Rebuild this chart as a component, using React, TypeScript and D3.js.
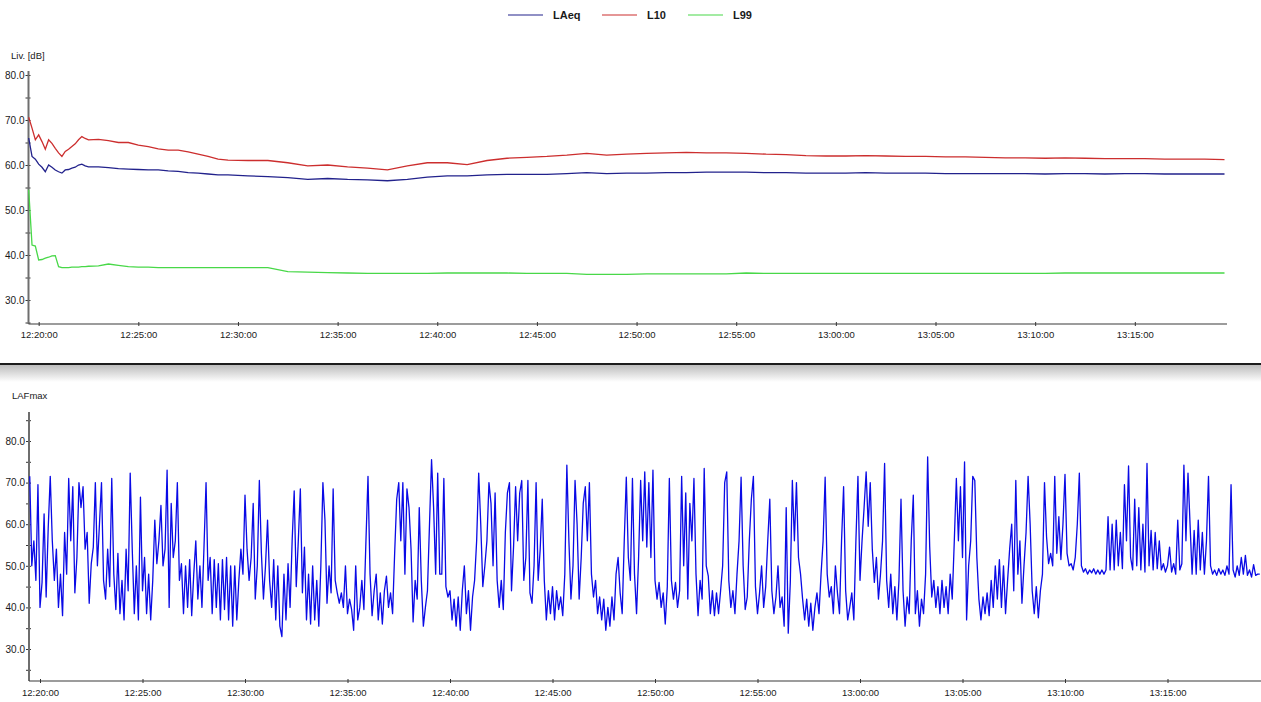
import React, { useEffect, useRef } from 'react'
import * as d3 from 'd3'

// Summary levels: sample times in seconds after 12:19:30
const levelSeconds = [
  0, 10, 20, 30, 40, 50, 60, 70, 80, 90, 100, 110, 120, 130, 140, 150, 160, 170, 180,
  210, 240, 270, 300, 330, 360, 390, 420, 450, 480, 510, 540, 570, 600,
  660, 720, 780, 840, 900, 960, 1020, 1080, 1140, 1200, 1260, 1320, 1380, 1440, 1500, 1560, 1620, 1680, 1740,
  1800, 1860, 1920, 1980, 2040, 2100, 2160, 2220, 2280, 2340, 2400, 2460, 2520, 2580, 2640, 2700, 2760, 2820,
  2880, 2940, 3000, 3060, 3120, 3180, 3240, 3300, 3360, 3420, 3480, 3540, 3600
]

const laeq = [
  66.0, 61.9, 61.3, 60.2, 59.5, 58.5, 60.0, 59.5, 58.9, 58.5, 58.2, 58.9, 59.0, 59.3, 59.5, 60.0, 60.2, 59.8, 59.6,
  59.6, 59.4, 59.2, 59.1, 59.0, 58.9, 58.9, 58.7, 58.6, 58.3, 58.2, 58.0, 57.8, 57.8,
  57.6, 57.4, 57.2, 56.8, 57.0, 56.8, 56.7, 56.5, 56.8, 57.3, 57.6, 57.6, 57.8, 57.9, 57.9, 57.9, 58.1, 58.3, 58.1,
  58.2, 58.2, 58.3, 58.3, 58.4, 58.4, 58.4, 58.3, 58.3, 58.2, 58.2, 58.2, 58.3, 58.2, 58.2, 58.2, 58.1, 58.1,
  58.1, 58.1, 58.1, 58.0, 58.1, 58.1, 58.0, 58.1, 58.1, 58.0, 58.0, 58.0, 58.0
]

const l10 = [
  70.6, 68.2, 65.6, 66.7, 65.2, 63.5, 65.6, 64.8, 63.7, 62.7, 61.9, 63.0, 63.5, 64.1, 64.7, 65.6, 66.3, 65.9, 65.6,
  65.7, 65.4, 65.0, 65.0, 64.4, 64.1, 63.6, 63.3, 63.3, 62.9, 62.4, 61.9, 61.3, 61.1,
  61.0, 61.0, 60.5, 59.8, 60.0, 59.6, 59.3, 58.9, 59.8, 60.5, 60.5, 60.1, 61.0, 61.5, 61.7, 61.9, 62.2, 62.6, 62.2,
  62.4, 62.6, 62.7, 62.8, 62.7, 62.7, 62.6, 62.4, 62.3, 62.1, 62.0, 62.0, 62.1, 62.0, 61.9, 61.9, 61.8, 61.8,
  61.7, 61.6, 61.6, 61.5, 61.6, 61.5, 61.4, 61.4, 61.4, 61.3, 61.3, 61.3, 61.2
]

const l99 = [
  54.5, 42.2, 42.0, 38.9, 39.0, 39.3, 39.5, 39.8, 39.85, 37.4, 37.2, 37.2, 37.2, 37.3, 37.3, 37.3, 37.4, 37.4, 37.5,
  37.6, 38.0, 37.7, 37.4, 37.3, 37.3, 37.2, 37.2, 37.2, 37.2, 37.2, 37.2, 37.2, 37.2,
  37.2, 37.2, 36.3, 36.2, 36.1, 36.0, 35.9, 35.9, 35.9, 35.9, 36.0, 36.0, 36.0, 36.0, 35.9, 35.9, 35.9, 35.7, 35.7,
  35.7, 35.8, 35.8, 35.8, 35.8, 35.8, 36.0, 35.9, 35.9, 35.9, 35.9, 35.9, 35.9, 35.9, 35.9, 35.9, 35.9, 35.9,
  35.9, 35.9, 35.9, 35.9, 36.0, 36.0, 36.0, 36.0, 36.0, 36.0, 36.0, 36.0, 36.0
]

// LAFmax, one value every 6 s from 12:19:30, in 5-minute blocks
const lafmaxA = [
  71.5, 50, 56, 46.5, 69.5, 40, 46, 62.5, 42.5, 59, 71.5, 56, 46.5, 54, 40, 48, 38, 58, 48, 71,
  56, 69, 43.5, 52, 70, 64, 69, 54, 58, 41, 50.5, 54.5, 70, 50, 60, 70, 46.5, 42, 54, 45,
  71, 48, 39.5, 53, 38.5, 46.5, 37, 54, 44, 72.3
]
const lafmaxB = [
  54, 38.5, 50, 37, 66.5, 44, 52, 38.5, 48, 37, 46.5, 61, 50.5, 56, 64.5, 50, 54, 73, 40, 65,
  52, 56, 70, 46.5, 50.5, 38.5, 50, 40, 51.5, 38, 48, 56, 42, 50, 40, 54.5, 70, 46.5, 52, 38.5,
  51.5, 40, 50.5, 37, 51.5, 39.5, 52, 37, 50, 35.5
]
const lafmaxC = [
  50, 37, 46.5, 54, 48, 67, 54, 46.5, 52, 65, 42, 50, 70.5, 53, 42, 50, 61, 46.5, 40, 51.5,
  37, 50, 35.5, 33, 48, 37, 50.5, 40, 56, 68, 45, 56, 68.5, 43.5, 54.5, 37, 48, 36, 50, 37,
  46.5, 35.5, 50, 70, 61, 41, 50, 43.5, 68.5, 46.5
]
const lafmaxD = [
  43.5, 41, 43.5, 40, 50, 38.5, 42, 39.5, 34.5, 50, 37, 40, 46.5, 39.5, 56, 71.5, 48, 38, 44, 48,
  37, 43.5, 36, 44, 47.5, 40, 43.5, 38.5, 53, 66, 70, 56, 70, 48, 68.5, 64, 54, 36.5, 46.5, 42,
  64, 46.5, 35.5, 40, 44, 60, 75.5, 64, 48, 72.3
]
const lafmaxE = [
  48, 48, 71, 45, 42.5, 44, 37, 42, 35.5, 42.5, 34.5, 44, 50, 38.5, 44, 34.5, 42.5, 46.5, 56, 72.3,
  60, 45, 50, 56, 70, 65, 50, 67.5, 46.5, 40, 46.5, 39.5, 58, 67.5, 70, 44, 54.5, 69, 56, 67.5,
  70.5, 46.5, 52, 70.5, 43.5, 41, 50, 70, 46.5, 54
]
const lafmaxF = [
  66, 46.5, 37, 44, 38.5, 45, 37, 44, 39.5, 42.5, 38, 48, 74.2, 56, 42, 50, 70.5, 60, 42, 52,
  65, 69, 56, 70, 48, 42.5, 46.5, 38.5, 42.5, 37, 42, 34.5, 40, 35.5, 42.5, 37, 48, 52, 43.5, 38.5,
  56, 71.3, 52, 46.5, 71, 48, 38.5, 52, 70.5, 56
]
const lafmaxG = [
  72.6, 54.5, 70, 52, 73, 46.5, 42, 46, 40, 43.5, 36, 45, 71, 46.5, 42, 46, 40, 44, 71.5, 50,
  67.5, 42, 65, 56, 71, 48, 38, 46.5, 42, 73.4, 50, 47.5, 38.5, 44, 38, 43.5, 38.5, 44, 50, 70,
  72.6, 46.5, 40, 44, 38.5, 48, 56, 71.3, 50, 39.5
]
const lafmaxH = [
  42.5, 56, 66, 71.5, 45, 38.5, 43.5, 50, 40, 45, 56, 66, 44, 38.5, 42.5, 50, 40, 42.5, 35.5, 64,
  33.8, 46, 70.5, 56, 70, 52, 48, 42, 37, 42, 35.5, 41, 34.5, 40, 43.5, 38.5, 48, 56, 71.3, 48,
  42.5, 45, 38.5, 50, 43.5, 38.5, 56, 69, 44, 37
]
const lafmaxI = [
  40, 43.5, 37, 56, 71.5, 46.5, 56, 64, 72.6, 59.5, 70, 54, 46, 52, 42, 48, 56, 74.6, 46.5, 40,
  48, 38.5, 45, 37, 46.5, 66, 44, 35.5, 42.5, 38.5, 56, 67, 38.5, 44, 35.5, 42, 38.5, 48, 76.2, 54.5,
  42.5, 46.5, 40, 45, 38.5, 46.5, 40, 45, 38.5, 48
]
const lafmaxJ = [
  42, 56, 71, 56, 69, 52, 75, 37, 50, 56, 71.5, 70.5, 52, 42, 37, 42.5, 38.5, 43.5, 38, 46.5,
  40, 50, 42, 51.5, 40, 50, 38.5, 46.5, 54, 60, 44, 70.5, 48, 56, 41, 50, 58, 71.5, 60, 44,
  38.5, 45, 37.5, 44, 48, 70, 57, 50.5, 53, 50
]
const lafmaxK = [
  71.5, 53, 61.8, 51.5, 60, 72, 53, 50, 50.5, 49, 52, 60, 72.3, 50, 48.5, 49.3, 48, 49, 48.3, 49.3,
  48, 49, 48, 49, 48, 49, 61.8, 49, 60, 49, 61, 50, 58, 49.3, 69.5, 56, 74, 52, 49, 66,
  50, 64, 49, 60, 48.5, 74.6, 50, 58.5, 49, 58
]
const lafmaxL = [
  49.3, 56, 49, 50.5, 48.5, 50, 54.5, 48.5, 50.5, 48, 61, 49, 50.5, 74.2, 56, 72.3, 60, 48, 58.5, 48,
  61, 49, 58, 48, 56, 71.5, 50, 48, 49, 47.7, 49.3, 48, 49, 47.7, 50, 48, 69.5, 49, 47.3, 50,
  47.7, 52, 48, 52.5, 47.7, 49, 47.3, 50.3, 47.7, 48, 48
]

const legendItems = [
  { key: 'LAeq', color: '#22228c' },
  { key: 'L10', color: '#cc2e2e' },
  { key: 'L99', color: '#48d848' }
]

const START = new Date(2000, 0, 1, 12, 19, 30)
const END = new Date(2000, 0, 1, 13, 19, 30)
const at = (s: number) => new Date(START.getTime() + s * 1000)
const FONT = '"Liberation Sans", Arial, sans-serif'

const drawAxes = (
  svg: d3.Selection<SVGSVGElement, unknown, null, undefined>,
  x: d3.ScaleTime<number, number>,
  y: d3.ScaleLinear<number, number>,
  o: { left: number; right: number; top: number; bottom: number; yTicks: number[]; labelPad: number }
) => {
  // y axis
  const gy = svg.append('g')
    .attr('transform', `translate(${o.left},0)`)
    .call(d3.axisLeft(y)
      .tickValues(o.yTicks)
      .tickSize(3)
      .tickPadding(1)
      .tickFormat(d => (+d % 10 === 0 ? (+d).toFixed(1) : '')))
  gy.select('.domain').remove()
  gy.selectAll('.tick line').attr('x1', 2).attr('stroke', '#333')
  gy.selectAll('.tick text').attr('font-size', 10).attr('font-family', FONT).attr('fill', '#1a1a1a')
  gy.append('line')
    .attr('y1', o.top).attr('y2', o.bottom)
    .attr('stroke', '#6e6e6e').attr('stroke-width', 2)

  // x axis
  const gx = svg.append('g')
    .attr('transform', `translate(0,${o.bottom})`)
    .call(d3.axisBottom(x)
      .ticks(d3.timeMinute.every(5))
      .tickSize(2)
      .tickPadding(o.labelPad)
      .tickFormat(d => d3.timeFormat('%H:%M:%S')(d as Date)))
  gx.select('.domain').remove()
  gx.selectAll('.tick line').attr('y1', -2).attr('stroke', '#333')
  gx.selectAll('.tick text').attr('font-size', 9.5).attr('font-family', FONT).attr('fill', '#1a1a1a')
  gx.append('line')
    .attr('x1', o.left).attr('x2', o.right)
    .attr('stroke', '#3a3a3a').attr('stroke-width', 1.2)
}

const App: React.FC = () => {
  const svgRef = useRef<SVGSVGElement>(null)

  useEffect(() => {
    if (!svgRef.current) return
    const svg = d3.select(svgRef.current)
    svg.selectAll('*').remove()

    // Legend
    const legendX = [508, 602, 688]
    legendItems.forEach((item, i) => {
      svg.append('line')
        .attr('x1', legendX[i]).attr('x2', legendX[i] + 35)
        .attr('y1', 15).attr('y2', 15)
        .attr('stroke', item.color).attr('stroke-width', 1.2)
      svg.append('text')
        .attr('x', legendX[i] + 45).attr('y', 19)
        .attr('font-size', 11).attr('font-weight', 'bold')
        .attr('font-family', FONT).attr('fill', '#1a1a1a')
        .text(item.key)
    })

    // Top panel: summary levels
    const xTop = d3.scaleTime().domain([START, END]).range([28.7, 1224.5])
    const yTop = d3.scaleLinear().domain([30, 80]).range([300, 75])

    svg.append('text')
      .attr('x', 11).attr('y', 59)
      .attr('font-size', 9.5).attr('font-family', FONT).attr('fill', '#1a1a1a')
      .text('Liv. [dB]')

    drawAxes(svg, xTop, yTop, {
      left: 28.5, right: 1227, top: 71, bottom: 324,
      yTicks: d3.range(25, 81, 5), labelPad: 5
    })

    const topLine = (vals: number[]) => d3.line<number>()
      .x((_, i) => xTop(at(levelSeconds[i])))
      .y(d => yTop(d))(vals)

    const series = [l99, laeq, l10]
    const seriesColor = ['#48d848', '#22228c', '#cc2e2e']
    series.forEach((vals, i) => {
      svg.append('path')
        .attr('d', topLine(vals) as string)
        .attr('fill', 'none')
        .attr('stroke', seriesColor[i])
        .attr('stroke-width', 1.3)
    })

    // Separator with shadow
    const grad = svg.append('defs').append('linearGradient')
      .attr('id', 'shade').attr('x1', 0).attr('x2', 0).attr('y1', 0).attr('y2', 1)
    grad.append('stop').attr('offset', '0%').attr('stop-color', '#bdbdbd')
    grad.append('stop').attr('offset', '100%').attr('stop-color', '#ffffff')
    svg.append('rect')
      .attr('x', 0).attr('y', 365).attr('width', 1261).attr('height', 17)
      .attr('fill', 'url(#shade)')
    svg.append('line')
      .attr('x1', 0).attr('x2', 1261).attr('y1', 364).attr('y2', 364)
      .attr('stroke', '#1c1c1c').attr('stroke-width', 2)

    // Bottom panel: LAFmax
    const lafmax = [
      ...lafmaxA, ...lafmaxB, ...lafmaxC, ...lafmaxD, ...lafmaxE, ...lafmaxF,
      ...lafmaxG, ...lafmaxH, ...lafmaxI, ...lafmaxJ, ...lafmaxK, ...lafmaxL
    ]
    const xBot = d3.scaleTime().domain([START, END]).range([29.75, 1259.75])
    const yBot = d3.scaleLinear().domain([30, 80]).range([649, 441])

    svg.append('text')
      .attr('x', 12).attr('y', 399)
      .attr('font-size', 9.5).attr('font-family', FONT).attr('fill', '#1a1a1a')
      .text('LAFmax')

    drawAxes(svg, xBot, yBot, {
      left: 29, right: 1261, top: 412, bottom: 681,
      yTicks: d3.range(25, 86, 5), labelPad: 6
    })

    svg.append('path')
      .attr('d', d3.line<number>()
        .x((_, i) => xBot(at(i * 6)))
        .y(d => yBot(d))(lafmax) as string)
      .attr('fill', 'none')
      .attr('stroke', '#0a0ae6')
      .attr('stroke-width', 1.3)
      .attr('stroke-linejoin', 'round')
  }, [])

  return (
    <svg
      ref={svgRef}
      width={1261}
      height={702}
      style={{ position: 'absolute', left: 0, top: 0, background: '#fff' }}
    />
  )
}

export default App
